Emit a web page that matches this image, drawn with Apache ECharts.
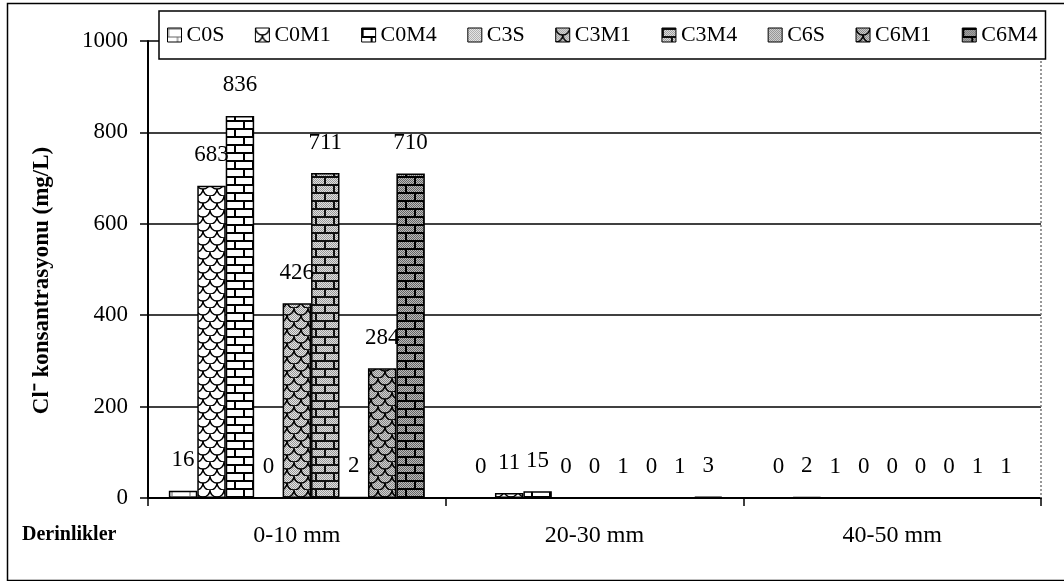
<!DOCTYPE html>
<html>
<head>
<meta charset="utf-8">
<script src="https://cdn.jsdelivr.net/npm/echarts@6/dist/echarts.min.js"></script>
<style>html,body{margin:0;padding:0;background:#fff;}#chart{width:1064px;height:581px;}</style>
</head>
<body>
<div id="chart"></div>
<script>
// ---- data ----
const categories = ['0-10 mm', '20-30 mm', '40-50 mm'];
const seriesNames = ['C0S', 'C0M1', 'C0M4', 'C3S', 'C3M1', 'C3M4', 'C6S', 'C6M1', 'C6M4'];
const C0S  = [16, 0, 0];
const C0M1 = [683, 11, 2];
const C0M4 = [836, 15, 1];
const C3S  = [0, 0, 0];
const C3M1 = [426, 0, 0];
const C3M4 = [711, 1, 0];
const C6S  = [2, 0, 0];
const C6M1 = [284, 1, 1];
const C6M4 = [710, 3, 1];
const yTicks = [0, 200, 400, 600, 800, 1000];
const yTitle = 'Cl\u207B konsantrasyonu (mg/L)';
const xTitle = 'Derinlikler';

const seriesValues = [C0S, C0M1, C0M4, C3S, C3M1, C3M4, C6S, C6M1, C6M4];

// ---- patterns ----
function makeCanvas(w, h, draw) {
  const c = document.createElement('canvas');
  c.width = w; c.height = h;
  draw(c.getContext('2d'), w, h);
  return c;
}
function stipple(x, w, h, c1, c2) {
  for (let j = 0; j < h; j++) for (let i = 0; i < w; i++) {
    x.fillStyle = ((i + j) % 2 === 0) ? c1 : c2;
    x.fillRect(i, j, 1, 1);
  }
}
function brick(c1, c2, mortar, lw) {
  return makeCanvas(18, 16, (x, w, h) => {
    stipple(x, w, h, c1, c2);
    x.strokeStyle = mortar; x.lineWidth = lw;
    x.beginPath();
    x.moveTo(0, 1); x.lineTo(w, 1);
    x.moveTo(0, 9); x.lineTo(w, 9);
    x.moveTo(1, 1); x.lineTo(1, 9);
    x.moveTo(10, 9); x.lineTo(10, 17);
    x.stroke();
  });
}
function scales(c1, c2, line) {
  return makeCanvas(14, 14, (x, w, h) => {
    stipple(x, w, h, c1, c2);
    x.strokeStyle = line; x.lineWidth = 1.4;
    x.beginPath(); x.arc(7, 0, 7, 0, Math.PI); x.stroke();
    x.beginPath(); x.arc(0, 7, 7, 0, Math.PI); x.stroke();
    x.beginPath(); x.arc(14, 7, 7, 0, Math.PI); x.stroke();
  });
}
function dots(c1, c2) {
  return makeCanvas(4, 4, (x, w, h) => stipple(x, w, h, c1, c2));
}
const patterns = [
  brick('#ffffff', '#ffffff', '#666', 1),
  scales('#ffffff', '#ffffff', '#000'),
  brick('#ffffff', '#ffffff', '#000', 2),
  dots('#aaaaaa', '#eeeeee'),
  scales('#999999', '#e6e6e6', '#000'),
  brick('#9a9a9a', '#e0e0e0', '#111', 2),
  dots('#888888', '#dddddd'),
  scales('#888888', '#d0d0d0', '#000'),
  brick('#666666', '#bbbbbb', '#000', 2)
];

// ---- legend sizing ----
const FONT = 'Liberation Serif';
const legendFont = 22;
const iconW = 14;
const mctx = document.createElement('canvas').getContext('2d');
mctx.font = legendFont + 'px "' + FONT + '"';
let itemsW = 0;
seriesNames.forEach(n => { itemsW += iconW + 5 + mctx.measureText(n).width; });
const legendLeft = 159, legendRight = 1041, legendPadX = 8;
const itemGap = Math.max(4, (legendRight - legendLeft - 2 * legendPadX - itemsW) / (seriesNames.length - 1));

const chart = echarts.init(document.getElementById('chart'), null, { renderer: 'canvas' });

const series = seriesNames.map((name, i) => ({
  name: name,
  type: 'bar',
  data: seriesValues[i],
  barGap: '0%',
  barCategoryGap: '14%',
  itemStyle: {
    color: { image: patterns[i], repeat: 'repeat' },
    borderColor: '#000',
    borderWidth: 1.5
  },
  label: {
    show: true,
    position: 'top',
    distance: 19,
    color: '#000',
    fontFamily: FONT,
    fontSize: 23
  }
}));

chart.setOption({
  animation: false,
  backgroundColor: '#fff',
  grid: { left: 148, right: 23, top: 41, bottom: 83, containLabel: false },
  legend: {
    data: seriesNames,
    icon: 'rect',
    left: legendLeft,
    top: 11,
    orient: 'horizontal',
    itemWidth: iconW,
    itemHeight: iconW,
    itemGap: itemGap,
    padding: [12, legendPadX, 12, legendPadX],
    backgroundColor: '#fff',
    borderColor: '#000',
    borderWidth: 1.5,
    textStyle: { fontFamily: FONT, fontSize: legendFont, color: '#000', lineHeight: 24 },
    itemStyle: { borderColor: '#000', borderWidth: 1 }
  },
  xAxis: {
    type: 'category',
    data: categories,
    axisLine: { lineStyle: { color: '#000', width: 2 } },
    axisTick: { show: true, length: 8, lineStyle: { color: '#000', width: 1.5 } },
    axisLabel: { margin: 26, fontFamily: FONT, fontSize: 24, color: '#000' },
    splitLine: { show: false }
  },
  yAxis: {
    type: 'value',
    min: yTicks[0],
    max: yTicks[yTicks.length - 1],
    interval: yTicks[1] - yTicks[0],
    name: yTitle,
    nameLocation: 'middle',
    nameRotate: 90,
    nameGap: 94,
    nameTextStyle: { fontFamily: FONT, fontSize: 23, fontWeight: 'bold', color: '#000', padding: [0, 22, 0, 0] },
    axisLine: { show: true, lineStyle: { color: '#000', width: 2 } },
    axisTick: { show: true, length: 8, lineStyle: { color: '#000', width: 1.5 } },
    axisLabel: { margin: 20, fontFamily: FONT, fontSize: 23, color: '#000', formatter: v => String(v) },
    splitLine: { show: true, lineStyle: { color: '#000', width: 1.5 } }
  },
  graphic: [
    { type: 'rect', left: 5, top: 1, z: -1, silent: true,
      shape: { width: 1070, height: 577 },
      style: { fill: 'none', stroke: '#000', lineWidth: 1.5 } },
    { type: 'line', silent: true, z: 1,
      shape: { x1: 1041, y1: 41, x2: 1041, y2: 498 },
      style: { stroke: '#777', lineWidth: 1.5, lineDash: [2, 2] } },
    { type: 'text', silent: true, left: 22, top: 525,
      style: { text: xTitle, fontFamily: FONT, fontSize: 20, fontWeight: 'bold', fill: '#000' } }
  ],
  series: series
});
</script>
</body>
</html>
